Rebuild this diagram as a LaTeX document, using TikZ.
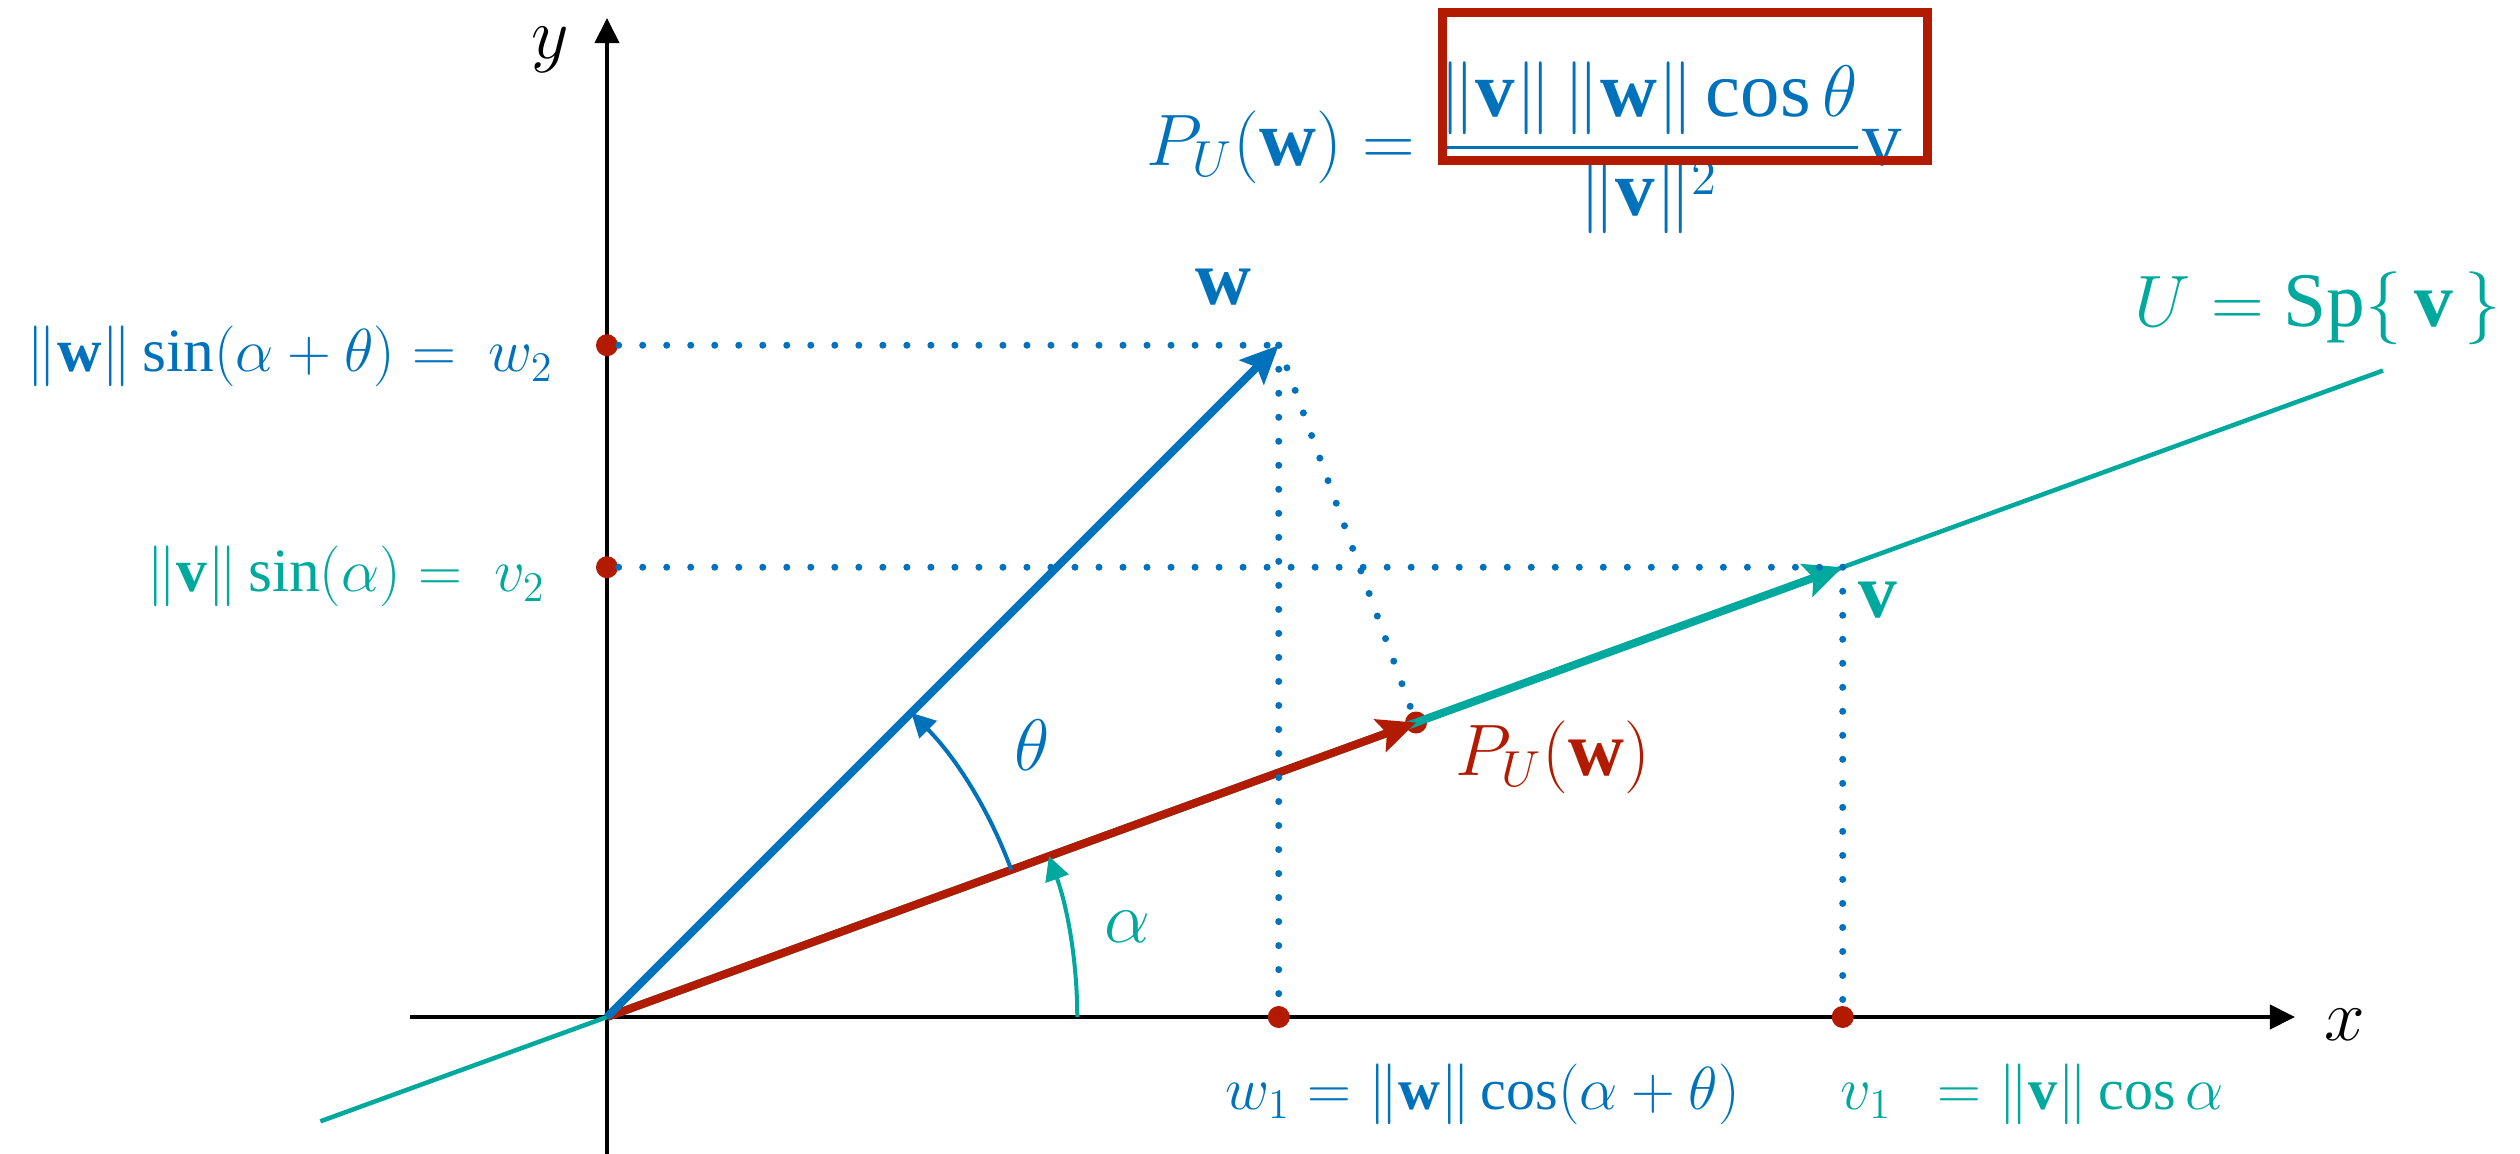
\documentclass[tikz,border=0pt]{standalone}
\usepackage{amsmath}
\usepackage{fontspec}
\setmainfont{Liberation Serif}
\usepackage{tikz}
\usetikzlibrary{arrows.meta,calc,angles,positioning}
\usepackage{xcolor}
\definecolor{wblue}{HTML}{0072BC}
\definecolor{uteal}{HTML}{00A99D}
\definecolor{pred}{HTML}{B31B00}
\tikzset{axisline/.style={black,line width=.04cm,-{Triangle[length=.25cm,width=.24cm]}},vecarrow/.style={line width=.08cm,-{Stealth[length=.38cm,width=.34cm,inset=.07cm]}},dotline/.style={wblue,line width=.07cm,line cap=round,dash pattern=on 0pt off .24cm},rdot/.style={circle,fill=pred,inner sep=0pt,minimum size=.22cm},anglearc/.style={draw,line width=.04cm,-{Triangle[length=.24cm,width=.24cm]}},biglabel/.style={font=\fontsize{22}{26}\selectfont},sidelabel/.style={font=\fontsize{17.5}{21}\selectfont,inner sep=0pt},botlabel/.style={font=\fontsize{16.5}{20}\selectfont,inner sep=0pt},toplabel/.style={font=\fontsize{22.4}{26}\selectfont,inner sep=0pt}}

\begin{document}
\begin{tikzpicture}[x=.01cm,y=.01cm]
\useasboundingbox (-607,-137) rectangle (1913,1017);
\coordinate (O) at (0,0);
\coordinate (V) at (20:1315);
\coordinate (W) at (45:950);
\coordinate (P) at (20:861);
\coordinate (xend) at (1688,0);
\draw[axisline] (-197,0)--(xend);
\draw[axisline] (0,-137)--(0,999);
\node[biglabel] (xlab) at (1738,-8) {$x$};
\node[biglabel] (ylab) at (-57,967) {$y$};
% the line U and the vectors
\node[rdot] (pw) at (P) {};
\draw[uteal,line width=.045cm] (200:305)--(20:1890);
\draw[vecarrow,uteal] (O)--(V);
\draw[vecarrow,pred] (O)--(P);
\draw[vecarrow,wblue] (O)--(W);
\pic[anglearc,draw=uteal,angle radius=4.7cm] {angle=xend--O--P};
\pic[anglearc,draw=wblue,angle radius=4.3cm] {angle=P--O--W};
\node[biglabel,text=uteal] (allab) at (9.8:528) {$\alpha$};
\node[biglabel,text=wblue] (thlab) at (32.6:505) {$\theta$};
% components on the axes
\node[rdot] (w2) at (O|-W) {};
\node[rdot] (v2) at (O|-V) {};
\node[rdot] (w1) at (O-|W) {};
\node[rdot] (v1) at (O-|V) {};
\draw[dotline] (w2)--(W);
\draw[dotline] (W)--(w1);
\draw[dotline] (v2)--(V);
\draw[dotline] (V)--(v1);
\draw[dotline] (W)--(pw);
\node[biglabel,text=wblue] (wlab) at (616,730) {$\mathbf{w}$};
\node[biglabel,text=uteal] (vlab) at (1271,417) {$\mathbf{v}$};
\node[biglabel,text=pred] (plab) at (946,260) {$P_U(\mathbf{w})$};
\node[biglabel,text=uteal] (ulab) at (1711,709) {$U=\mathrm{Sp}\{\,\mathbf{v}\,\}$};
\node[sidelabel,text=wblue,anchor=base east] (w2lab) at (-53,645) {$\|\mathbf{w}\|\sin(\alpha+\theta) =\ w_2$};
\node[sidelabel,text=uteal,anchor=base east] (v2lab) at (-61,425) {$\|\mathbf{v}\|\sin(\alpha) =\ v_2$};
\node[botlabel,text=wblue,anchor=base west] (w1lab) at (618,-92) {$w_1 = \|\mathbf{w}\|\cos(\alpha+\theta)$};
\node[botlabel,text=uteal,anchor=base west] (v1lab) at (1233,-92) {$v_1\enspace = \|\mathbf{v}\|\cos\alpha$};
\node[toplabel,text=wblue,anchor=west] (projlab) at (539,869) {$P_U(\mathbf{w}) = \dfrac{\|\mathbf{v}\|\,\|\mathbf{w}\|\cos\theta}{\|\mathbf{v}\|^2}\mathrm{v}$};
\draw[pred,line width=.09cm] (835,1004) rectangle (1320,856);
\end{tikzpicture}
\end{document}
